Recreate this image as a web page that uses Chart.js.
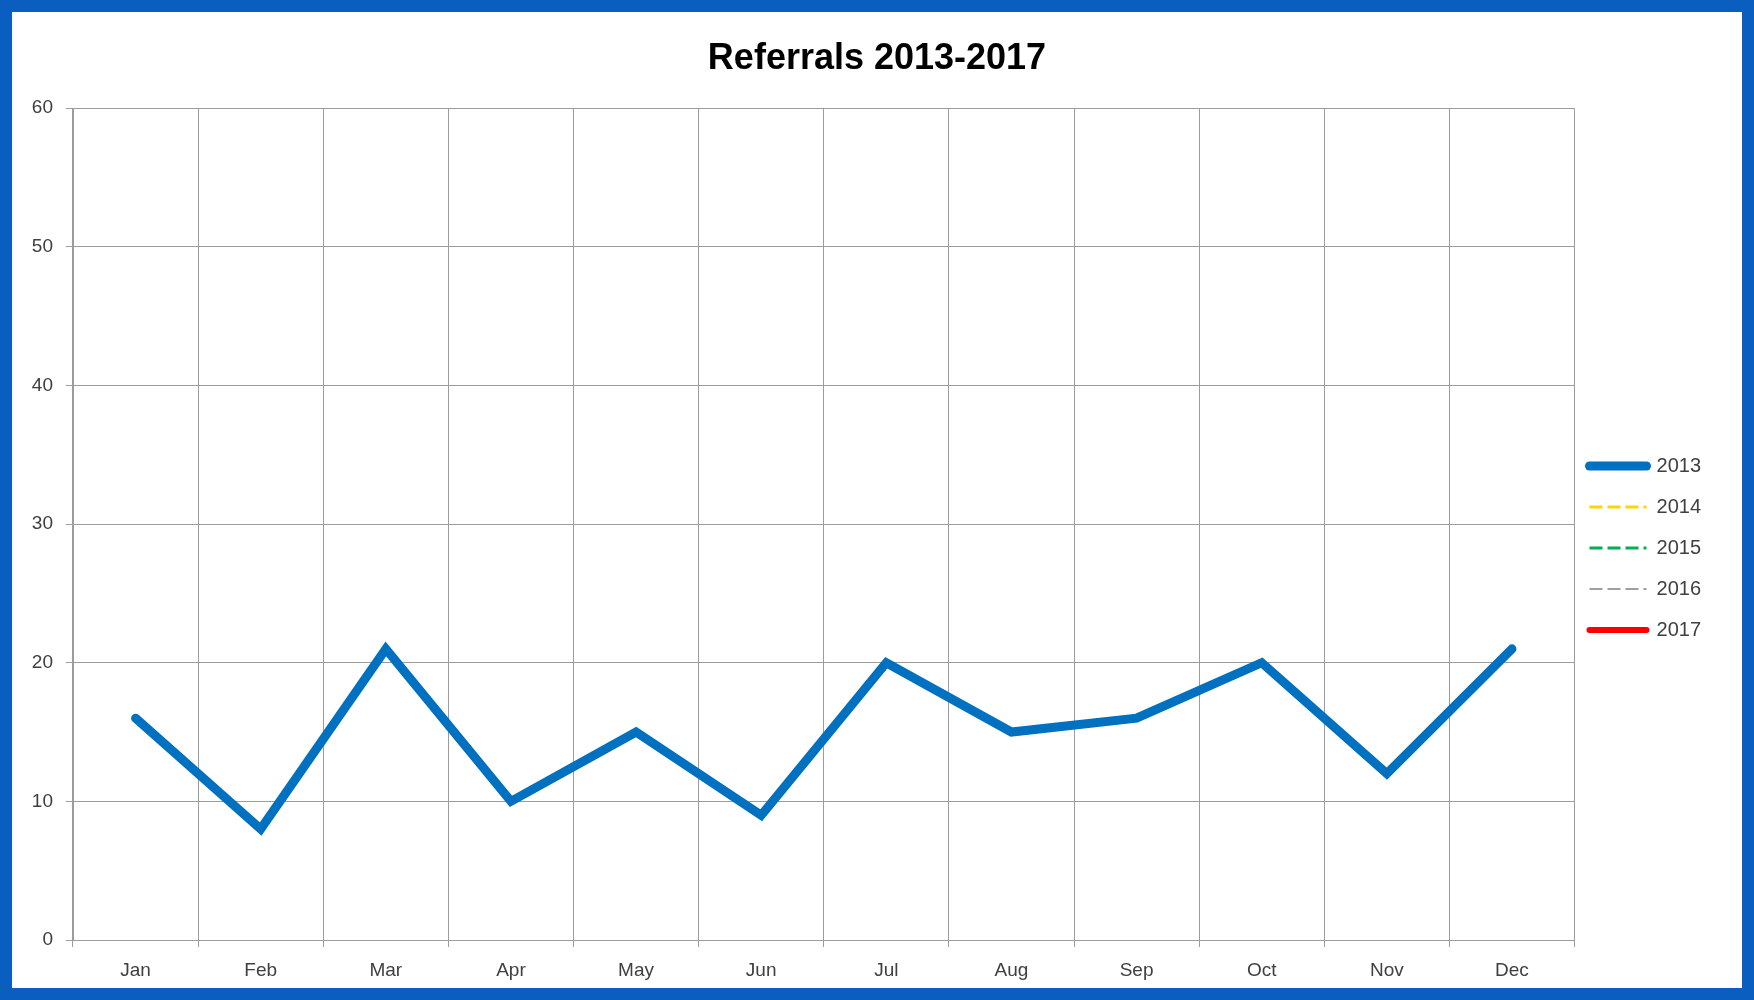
<!DOCTYPE html>
<html lang="en">
<head>
    <meta charset="UTF-8">
    <title>Referrals 2013-2017</title>
    <style>
        body {
            margin: 0;
            background-color: #FFFFFF;
        }
        .chart-frame {
            width: 1754px;
            height: 1000px;
            box-sizing: border-box;
            border: 12px solid #0A5EBF;
            background-color: #FFFFFF;
            position: relative;
        }
        .chart-container {
            width: 1730px;
            height: 976px;
            position: relative;
        }
    </style>
</head>
<body>
    <div class="chart-frame">
        <div class="chart-container">
            <canvas id="referralsChart"></canvas>
        </div>
    </div>

    <script src="https://cdn.jsdelivr.net/npm/chart.js"></script>
    <script>
        const months = ['Jan', 'Feb', 'Mar', 'Apr', 'May', 'Jun', 'Jul', 'Aug', 'Sep', 'Oct', 'Nov', 'Dec'];
        const referrals2013 = [16, 8, 21, 10, 15, 9, 20, 15, 16, 20, 12, 21];
        const referrals2014 = [null, null, null, null, null, null, null, null, null, null, null, null];
        const referrals2015 = [null, null, null, null, null, null, null, null, null, null, null, null];
        const referrals2016 = [null, null, null, null, null, null, null, null, null, null, null, null];
        const referrals2017 = [null, null, null, null, null, null, null, null, null, null, null, null];
        const yTicks = [0, 10, 20, 30, 40, 50, 60];

        const textColor = '#404040';
        const gridColor = '#9C9C9C';
        const fontFamily = 'Liberation Sans';
        const rightPad = 25;

        const ctx = document.getElementById('referralsChart').getContext('2d');

        const data = {
            labels: months,
            datasets: [
                { label: '2013', data: referrals2013, borderColor: '#0070C0', backgroundColor: '#0070C0', borderWidth: 9, borderCapStyle: 'round' },
                { label: '2014', data: referrals2014, borderColor: '#FFD500', backgroundColor: '#FFD500', borderWidth: 3, borderDash: [13, 5] },
                { label: '2015', data: referrals2015, borderColor: '#00B050', backgroundColor: '#00B050', borderWidth: 3, borderDash: [13, 5] },
                { label: '2016', data: referrals2016, borderColor: '#A0A0A0', backgroundColor: '#A0A0A0', borderWidth: 2, borderDash: [13, 5] },
                { label: '2017', data: referrals2017, borderColor: '#FF0000', backgroundColor: '#FF0000', borderWidth: 6, borderCapStyle: 'round' }
            ]
        };

        // move the legend to where Excel puts it, and centre the title on the whole canvas
        const legendShift = {
            id: 'legendShift',
            afterLayout(chart) {
                const dx = -6;
                const dy = 48;
                chart.legend.left += dx;
                chart.legend.right += dx;
                chart.legend.top += dy;
                chart.legend.bottom += dy;
                chart.titleBlock.right += rightPad;
            }
        };

        const config = {
            type: 'line',
            data: data,
            options: {
                responsive: true,
                maintainAspectRatio: false,
                animation: false,
                layout: {
                    padding: { left: 0, right: rightPad, top: 0, bottom: 0 }
                },
                elements: {
                    point: { radius: 0, hoverRadius: 0 },
                    line: { tension: 0, borderJoinStyle: 'miter' }
                },
                plugins: {
                    title: {
                        display: true,
                        text: 'Referrals 2013-2017',
                        color: '#000000',
                        font: { family: fontFamily, size: 36, weight: 'bold' },
                        padding: { top: 25, bottom: 28 }
                    },
                    legend: {
                        position: 'right',
                        align: 'center',
                        labels: {
                            usePointStyle: true,
                            pointStyle: 'line',
                            pointStyleWidth: 57,
                            padding: 21,
                            color: textColor,
                            font: { family: fontFamily, size: 20 },
                            // the point style branch ignores borderDash, so copy it over
                            generateLabels(chart) {
                                const items = Chart.defaults.plugins.legend.labels.generateLabels(chart);
                                items.forEach(item => {
                                    const ds = chart.data.datasets[item.datasetIndex];
                                    item.lineDash = ds.borderDash || [];
                                    item.lineCap = ds.borderCapStyle || 'butt';
                                    item.lineWidth = ds.borderWidth;
                                });
                                return items;
                            }
                        }
                    },
                    tooltip: { enabled: false }
                },
                scales: {
                    x: {
                        offset: true,
                        afterFit(scale) {
                            scale.height = 48;
                        },
                        grid: {
                            offset: true,
                            color: gridColor,
                            lineWidth: 1,
                            drawTicks: true,
                            tickLength: 7
                        },
                        border: { color: gridColor },
                        ticks: {
                            color: textColor,
                            padding: 12,
                            font: { family: fontFamily, size: 19 }
                        }
                    },
                    y: {
                        min: yTicks[0],
                        max: yTicks[yTicks.length - 1],
                        afterBuildTicks(scale) {
                            scale.ticks = yTicks.map(v => ({ value: v }));
                        },
                        afterFit(scale) {
                            scale.width = 61;
                        },
                        grid: {
                            color: gridColor,
                            lineWidth: 1,
                            drawTicks: true,
                            tickLength: 7
                        },
                        border: { color: gridColor },
                        ticks: {
                            color: textColor,
                            padding: 13,
                            font: { family: fontFamily, size: 19 }
                        }
                    }
                }
            },
            plugins: [legendShift]
        };

        const referralsChart = new Chart(ctx, config);
    </script>
</body>
</html>
